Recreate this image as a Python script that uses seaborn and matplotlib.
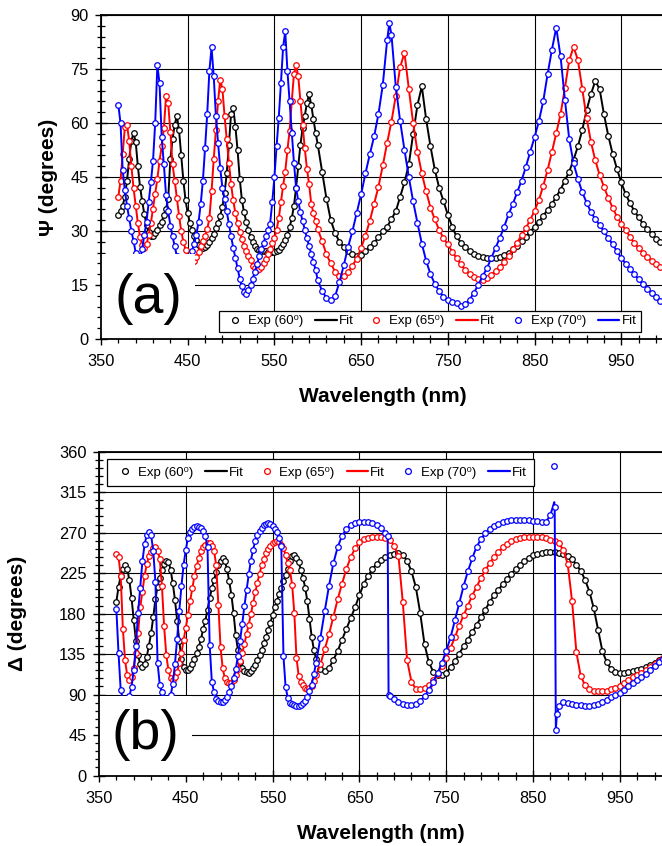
import numpy as np
import matplotlib
matplotlib.use("Agg")
import matplotlib.pyplot as plt
from matplotlib.lines import Line2D
from matplotlib.patches import Rectangle
from matplotlib.ticker import FixedLocator, MultipleLocator
import seaborn as sns

# wavelength grid (nm): 2.5 nm steps to 600, 5 nm steps after
wl = np.r_[np.arange(370, 600.1, 2.5), np.arange(605, 1000.1, 5)]

# ---- Psi (degrees) ----
p60 = [
    34.5, 35.5, 37.0, 39.5, 44.0, 50.0, 55.0, 57.2, 54.8, 48.0,   # 370
    42.3, 38.3, 34.6, 31.7, 29.6, 28.7, 28.7, 29.4, 30.4, 31.6,   # 395
    32.6, 34.4, 36.2, 39.0, 50.0, 55.5, 59.5, 62.0, 58.0, 51.0,   # 420
    44.0, 38.5, 35.0, 32.3, 30.3, 28.5, 27.4, 26.1, 25.4, 25.2,   # 445
    25.6, 26.2, 27.0, 28.0, 29.2, 30.8, 32.2, 34.3, 36.8, 40.5,   # 470
    46.0, 54.0, 62.5, 64.3, 59.0, 52.5, 44.5, 38.6, 35.2, 32.6,   # 495
    30.3, 28.3, 26.9, 25.7, 25.1, 24.7, 24.5, 24.5, 24.4, 24.3,   # 520
    24.2, 24.2, 24.2, 24.4, 24.8, 25.5, 26.4, 27.5, 29.0, 31.0,   # 545
    33.5, 37.0, 42.0, 48.0, 54.0, 58.5, 62.0, 65.5, 68.0, 65.0,   # 570
    61.0, 57.3, 54.0,                                             # 595
    46.5, 39.0, 33.0, 29.4, 27.0, 25.5, 24.4, 23.5, 23.1, 23.3,   # 605
    24.4, 25.6, 26.8, 28.2, 29.9, 31.2, 33.3, 35.5, 39.5, 43.5,   # 655
    48.5, 57.0, 65.0, 70.2, 61.0, 53.5, 47.0, 42.0, 38.3, 34.5,   # 705
    31.2, 28.5, 26.8, 25.5, 24.4, 23.6, 23.0, 22.7, 22.5, 22.4,   # 755
    22.5, 22.9, 23.4, 24.0, 24.9, 25.9, 27.1, 28.4, 29.8, 31.2,   # 805
    32.6, 34.2, 35.9, 37.5, 39.5, 41.5, 44.0, 46.5, 49.8, 53.5,   # 855
    58.0, 63.5, 68.0, 71.6, 69.5, 62.5, 56.5, 51.5, 47.3, 43.5,   # 905
    40.3, 37.8, 35.6, 33.8, 32.0, 30.6, 29.3, 27.9, 26.9, 26.2,   # 955
]
p65 = [
    39.5, 44.0, 51.5, 58.8, 59.5, 55.0, 48.0, 42.0, 37.0, 32.2,
    28.4, 26.2, 25.4, 26.4, 28.8, 32.2, 36.2, 40.4, 44.5, 49.5,
    53.5, 58.5, 67.5, 65.5, 57.5, 48.5, 44.0, 39.2, 34.3, 30.0,
    27.0, 24.8, 22.8, 21.8, 21.3, 21.6, 22.8, 24.2, 25.8, 27.2,
    28.6, 30.5, 33.5, 41.0, 50.0, 58.0, 66.0, 72.0, 69.5, 62.0,
    55.5, 49.0, 43.0, 38.5, 35.0, 32.3, 29.8, 27.8, 25.9, 24.4,
    23.1, 21.9, 20.4, 19.6, 19.2, 19.4, 20.0, 21.0, 22.3, 23.7,
    25.0, 26.6, 28.0, 30.3, 33.5, 38.0, 42.5, 46.5, 52.5, 57.8,
    66.0, 73.5, 76.0, 73.0, 66.0, 59.5, 53.0, 47.3, 43.0, 37.5,
    35.0, 32.8, 30.5,
    27.2, 23.5, 21.0, 18.7, 17.6, 17.5, 18.6, 20.4, 22.3, 25.3,
    28.7, 32.8, 37.5, 42.3, 48.2, 54.5, 60.4, 67.6, 75.5, 79.5,
    69.5, 60.0, 52.0, 46.0, 41.0, 36.5, 33.2, 30.3, 28.0, 26.3,
    24.3, 22.5, 20.7, 19.2, 18.1, 17.2, 16.6, 16.4, 16.9, 17.8,
    18.9, 20.1, 21.5, 23.0, 24.9, 26.8, 28.8, 30.8, 33.1, 35.6,
    38.6, 42.5, 46.9, 51.9, 57.2, 62.4, 69.7, 77.4, 81.1, 77.5,
    69.5, 61.5, 54.8, 49.7, 45.6, 42.3, 39.2, 36.5, 34.0, 32.0,
    30.3, 28.4, 26.7, 25.2, 23.9, 22.7, 21.8, 20.8, 20.1, 19.5,
]
p70 = [
    65.0, 60.0, 47.0, 41.3, 37.0, 33.5, 30.0, 27.3, 24.0, 21.5,
    22.0, 25.0, 29.0, 32.5, 38.0, 43.5, 49.5, 60.0, 76.0, 71.0,
    56.0, 48.5, 40.0, 35.5, 31.5, 28.5, 25.7, 23.0, 19.5, 16.5,
    15.0, 16.0, 19.0, 22.5, 24.5, 26.5, 29.0, 32.5, 37.5, 44.0,
    53.0, 62.5, 74.5, 81.0, 73.0, 62.0, 54.5, 47.5, 42.0, 39.0,
    35.5, 32.0, 28.5, 25.4, 22.5, 19.6, 16.8, 14.6, 13.1, 12.6,
    13.5, 15.0, 16.8, 18.7, 20.8, 23.0, 25.0, 26.8, 28.5, 30.3,
    32.0, 38.0, 45.0, 53.5, 61.5, 71.0, 81.0, 85.5, 74.5, 66.0,
    57.3, 49.0, 42.0, 38.3, 35.2, 32.8, 30.3, 28.0, 25.8, 23.7,
    21.5, 19.2, 16.3,
    13.4, 11.4, 10.7, 11.9, 15.8, 20.5, 25.6, 30.0, 35.1, 40.2,
    46.0, 51.3, 56.3, 62.5, 70.6, 83.0, 84.5, 70.0, 60.5, 52.5,
    45.0, 38.2, 32.2, 26.5, 21.7, 18.0, 15.3, 13.3, 11.8, 10.8,
    10.2, 9.9, 9.3, 9.6, 10.9, 12.8, 15.0, 17.4, 19.6, 22.4,
    25.3, 28.1, 31.2, 34.6, 37.5, 40.8, 44.0, 47.8, 52.0, 56.0,
    60.5, 66.0, 73.5, 80.3, 86.5, 78.5, 66.5, 55.5, 48.8, 44.5,
    40.8, 37.9, 35.3, 33.3, 31.7, 29.9, 28.1, 26.3, 24.4, 22.6,
    20.9, 19.4, 18.0, 16.6, 15.2, 14.0, 12.8, 11.6, 10.5, 9.5,
]
p70_pk_wl = [682.5]
p70_pk = [87.7]

# ---- Delta (degrees) ----
d60 = [
    193.0, 210.0, 222.0, 229.5, 233.5, 230.0, 217.0, 197.5, 173.0, 150.0,
    133.5, 124.0, 121.0, 124.5, 132.0, 144.5, 158.0, 176.0, 196.0, 210.0,
    220.0, 229.0, 235.0, 239.0, 237.5, 229.0, 213.5, 195.5, 172.0, 149.5,
    129.0, 120.5, 117.2, 117.4, 120.0, 124.0, 129.5, 135.7, 143.0, 151.5,
    163.0, 172.0, 184.5, 197.0, 208.0, 217.5, 226.0, 234.5, 239.0, 241.3,
    238.0, 229.5, 216.0, 201.0, 181.0, 156.0, 140.0, 126.0, 120.0, 116.0,
    114.6, 114.4, 116.5, 119.5, 123.3, 128.0, 133.5, 140.0, 147.0, 154.5,
    161.5, 170.0, 178.5, 187.0, 194.0, 201.5, 208.5, 216.0, 223.0, 230.0,
    238.0, 243.5, 245.0, 242.0, 237.0, 229.0, 220.0, 209.0, 194.0, 174.0,
    154.5, 140.0, 130.0,
    118.8, 116.0, 119.5, 128.5, 138.5, 151.0, 163.0, 175.0, 187.0, 200.5,
    213.0, 222.0, 229.5, 235.5, 240.0, 243.0, 245.3, 246.8, 247.5, 245.5,
    238.5, 227.0, 209.5, 181.0, 146.0, 126.0, 115.5, 111.7, 111.7, 114.3,
    120.5, 127.0, 135.5, 143.5, 151.0, 159.5, 167.2, 176.0, 184.5, 192.5,
    200.5, 206.5, 212.5, 218.5, 224.5, 229.5, 234.0, 238.0, 242.0, 244.8,
    246.3, 247.3, 248.0, 248.4, 248.0, 247.0, 245.8, 244.5, 241.0, 234.0,
    227.5, 217.5, 204.5, 186.0, 162.0, 138.0, 126.0, 118.0, 114.7, 114.2,
    114.3, 115.0, 116.2, 117.4, 118.6, 120.5, 123.0, 125.4, 128.5, 131.0,
]
d65 = [
    246.5, 243.0, 222.0, 163.0, 128.3, 111.5, 106.1, 109.6, 119.0, 136.0,
    158.0, 187.0, 204.5, 222.0, 235.0, 243.5, 249.0, 253.0, 254.0, 250.0,
    241.0, 211.0, 166.0, 134.0, 117.0, 108.5, 106.3, 109.0, 115.5, 124.6,
    136.5, 150.5, 164.0, 178.5, 194.0, 208.0, 222.0, 232.5, 242.0, 249.5,
    254.0, 256.7, 258.3, 258.5, 255.5, 250.0, 234.0, 190.0, 143.0, 119.0,
    108.2, 104.5, 102.7, 103.2, 106.0, 111.5, 118.0, 127.0, 135.7, 146.0,
    157.5, 167.5, 179.5, 192.0, 203.5, 214.5, 224.5, 233.5, 241.0, 247.5,
    251.5, 255.0, 258.0, 260.0, 261.0, 260.0, 256.5, 252.5, 245.0, 236.0,
    228.0, 212.0, 181.0, 131.0, 111.0, 104.5, 100.5, 97.0, 96.5, 97.5,
    100.0, 105.0, 111.5,
    123.5, 140.3, 157.0, 176.7, 196.0, 213.3, 229.5, 242.8, 252.4, 259.5,
    262.7, 264.6, 265.2, 265.0, 264.8, 263.5, 261.8, 255.5, 244.0, 192.5,
    128.0, 104.0, 96.3, 95.8, 97.5, 101.0, 106.0, 113.2, 121.5, 131.0,
    142.0, 153.5, 166.5, 178.0, 189.0, 200.0, 209.8, 219.5, 228.0, 236.0,
    242.8, 248.5, 253.6, 257.5, 260.6, 262.8, 264.0, 264.8, 265.3, 265.4,
    265.3, 264.9, 263.8, 262.2, 260.5, 258.0, 250.5, 235.0, 194.0, 137.0,
    110.5, 100.5, 96.3, 94.2, 93.4, 93.5, 94.3, 96.0, 97.8, 99.5,
    102.5, 105.8, 109.0, 111.7, 114.5, 116.8, 120.3, 124.0, 127.8, 131.0,
]
d70 = [
    184.6, 135.7, 95.0, 85.0, 80.0, 82.0, 88.0, 98.5, 117.0, 144.0,
    180.5, 209.0, 238.0, 257.0, 267.3, 270.2, 267.2, 250.0, 215.0, 125.0,
    101.0, 92.5, 86.0, 82.0, 83.0, 89.0, 101.5, 124.0, 152.0, 183.0,
    211.0, 234.5, 251.0, 264.0, 271.0, 274.5, 276.3, 277.2, 276.8, 275.5,
    272.0, 266.5, 254.0, 145.0, 104.0, 93.0, 85.5, 83.0, 82.0, 82.0,
    84.3, 87.5, 93.0, 99.5, 108.0, 118.0, 132.5, 149.5, 168.5, 188.5,
    206.0, 223.5, 239.0, 251.0, 261.0, 267.5, 272.0, 275.5, 278.0, 279.6,
    280.2, 279.5, 277.5, 274.5, 270.5, 264.2, 255.5, 133.0, 98.0, 86.5,
    81.0, 79.0, 78.0, 77.2, 77.8, 78.8, 80.2, 83.3, 87.5, 94.0,
    101.0, 112.5, 125.0,
    152.5, 182.5, 211.0, 236.0, 254.0, 266.5, 274.0, 278.5, 280.8, 281.8,
    282.0, 281.8, 280.5, 278.3, 275.0, 270.0, 88.5, 85.3, 82.0, 79.5,
    78.3, 78.0, 79.8, 82.8, 88.0, 95.3, 103.8, 113.7, 125.3, 138.5,
    153.5, 172.5, 191.5, 210.5, 227.0, 241.5, 254.3, 262.5, 269.5, 274.0,
    277.5, 280.0, 282.0, 283.3, 283.8, 283.9, 283.9, 283.9, 283.7, 283.2,
    282.5, 281.6, 282.0, 289.5, 298.7, 77.0, 81.8, 80.2, 79.2, 78.3,
    78.0, 77.5, 77.8, 78.8, 79.5, 81.5, 84.0, 86.8, 89.5, 91.5,
    95.0, 99.0, 102.3, 105.8, 109.5, 113.0, 117.5, 122.0, 126.5, 130.0,
]
# sharp features of the 70 deg Delta curve (jumps near 683 and 875 nm)
d70_x_wl = [682.6, 683.6, 874.5, 876.3, 877.5]
d70_x_exp = [266.0, 89.5, 344.0, 51.0, 68.0]
d70_x_fit = [266.0, 89.5, 304.0, 51.0, 68.0]

labels = ["Exp (60\u2070)", "Fit", "Exp (65\u2070)", "Fit", "Exp (70\u2070)", "Fit"]
colors = ["black", "#ff0000", "#0000ff"]

for arr in (p60, p65, p70, d60, d65, d70):
    assert len(arr) == len(wl), len(arr)


def merged(xw, xv, base):
    x = np.r_[wl, xw]
    v = np.r_[base, xv]
    o = np.argsort(x, kind="stable")
    return x[o], v[o]


sns.set_style("ticks")
plt.rcParams["font.family"] = ["Liberation Sans", "DejaVu Sans"]
plt.rcParams["text.color"] = "black"
plt.rcParams["axes.labelcolor"] = "black"

fig = plt.figure(figsize=(6.62, 8.46), dpi=100)
ax1 = fig.add_axes([101 / 662, 1 - 339 / 846, 563.6 / 662, 324 / 846])
ax2 = fig.add_axes([99 / 662, 1 - 775.5 / 846, 564.2 / 662, 323.8 / 846])


def draw(ax, xf, yf, xe, ye, c, z):
    sns.lineplot(x=xf, y=yf, ax=ax, color=c, linewidth=1.4,
                 estimator=None, sort=False, zorder=z)
    sns.scatterplot(x=xe, y=ye, ax=ax, marker="o", s=16, facecolor="white",
                    edgecolor=c, linewidth=0.9, zorder=z + 0.01)


# Psi panel
draw(ax1, wl, p60, wl, p60, colors[0], 2.0)
draw(ax1, wl, p65, wl, p65, colors[1], 2.02)
x70, v70 = merged(p70_pk_wl, p70_pk, p70)
draw(ax1, x70, v70, x70, v70, colors[2], 2.04)

# Delta panel
draw(ax2, wl, d60, wl, d60, colors[0], 2.0)
draw(ax2, wl, d65, wl, d65, colors[1], 2.02)
xf, vf = merged(d70_x_wl, d70_x_fit, d70)
xe, ve = merged(d70_x_wl, d70_x_exp, d70)
draw(ax2, xf, vf, xe, ve, colors[2], 2.04)

handles = []
for c in colors:
    handles.append(Line2D([0], [0], ls="none", marker="o", ms=4.2, mfc="white",
                          mec=c, mew=0.9))
    handles.append(Line2D([0], [0], color=c, lw=1.6))

for ax, ymax, ystep, ymin_step in ((ax1, 90, 15, 3), (ax2, 360, 45, 9)):
    ax.set_xlim(350, 1000)
    ax.set_ylim(0, ymax)
    ax.xaxis.set_major_locator(FixedLocator(np.arange(350, 951, 100)))
    ax.xaxis.set_minor_locator(FixedLocator(np.arange(370, 1000, 20)))
    ax.yaxis.set_major_locator(MultipleLocator(ystep))
    ax.yaxis.set_minor_locator(MultipleLocator(ymin_step))
    ax.tick_params(which="major", direction="inout", length=8, width=1.0,
                   labelsize=11.8, colors="black", bottom=True, left=True)
    ax.tick_params(which="minor", direction="inout", length=5.5, width=0.9,
                   colors="black", bottom=True, left=True)
    ax.tick_params(axis="x", pad=7)
    ax.tick_params(axis="y", pad=5)
    ax.grid(True, which="major", color="black", lw=0.8)
    ax.set_axisbelow(True)
    for s in ax.spines.values():
        s.set_visible(True)
        s.set_color("black")
        s.set_linewidth(1.3)
    ax.set_xlabel("Wavelength (nm)", fontsize=15, fontweight="bold", color="black")
    ax.xaxis.label.set_va("center")

ax1.set_ylabel("\u03a8 (degrees)", fontsize=15, fontweight="bold", color="black")
ax2.set_ylabel("\u0394 (degrees)", fontsize=15, fontweight="bold", color="black")
ax1.yaxis.set_label_coords(-0.0923, 0.5)
ax2.yaxis.set_label_coords(-0.1453, 0.5)
ax1.yaxis.label.set_va("center")
ax2.yaxis.label.set_va("center")
ax1.xaxis.set_label_coords(0.5, -0.179)
ax2.xaxis.set_label_coords(0.5, -0.178)

# panel tags sit on white boxes that hide the data below them
ax1.add_patch(Rectangle((350, 0), 108.4, 23.5, facecolor="white",
                        edgecolor="none", zorder=2.3))
ax1.text(404.8, 11.25, "(a)", fontsize=40, ha="center", va="center",
         color="black", zorder=2.4)
ax2.add_patch(Rectangle((350, 0), 106.8, 88.5, facecolor="white",
                        edgecolor="none", zorder=2.3))
ax2.text(403, 45, "(b)", fontsize=40, ha="center", va="center",
         color="black", zorder=2.4)

leg_kw = dict(ncol=6, fontsize=9.5, handlelength=1.65, handletextpad=0.15,
              columnspacing=0.9, frameon=True, fancybox=False, framealpha=1,
              edgecolor="black", borderaxespad=0)
leg1 = ax1.legend(handles, labels, loc="lower right",
                  bbox_to_anchor=(0.958, 0.0216), borderpad=0.35, **leg_kw)
leg2 = ax2.legend(handles, labels, loc="upper left",
                  bbox_to_anchor=(0.0142, 0.977), borderpad=0.55, **leg_kw)
for leg in (leg1, leg2):
    leg.get_frame().set_linewidth(0.9)
    for t in leg.get_texts():
        t.set_color("black")

fig.savefig("out.png", dpi=100)
